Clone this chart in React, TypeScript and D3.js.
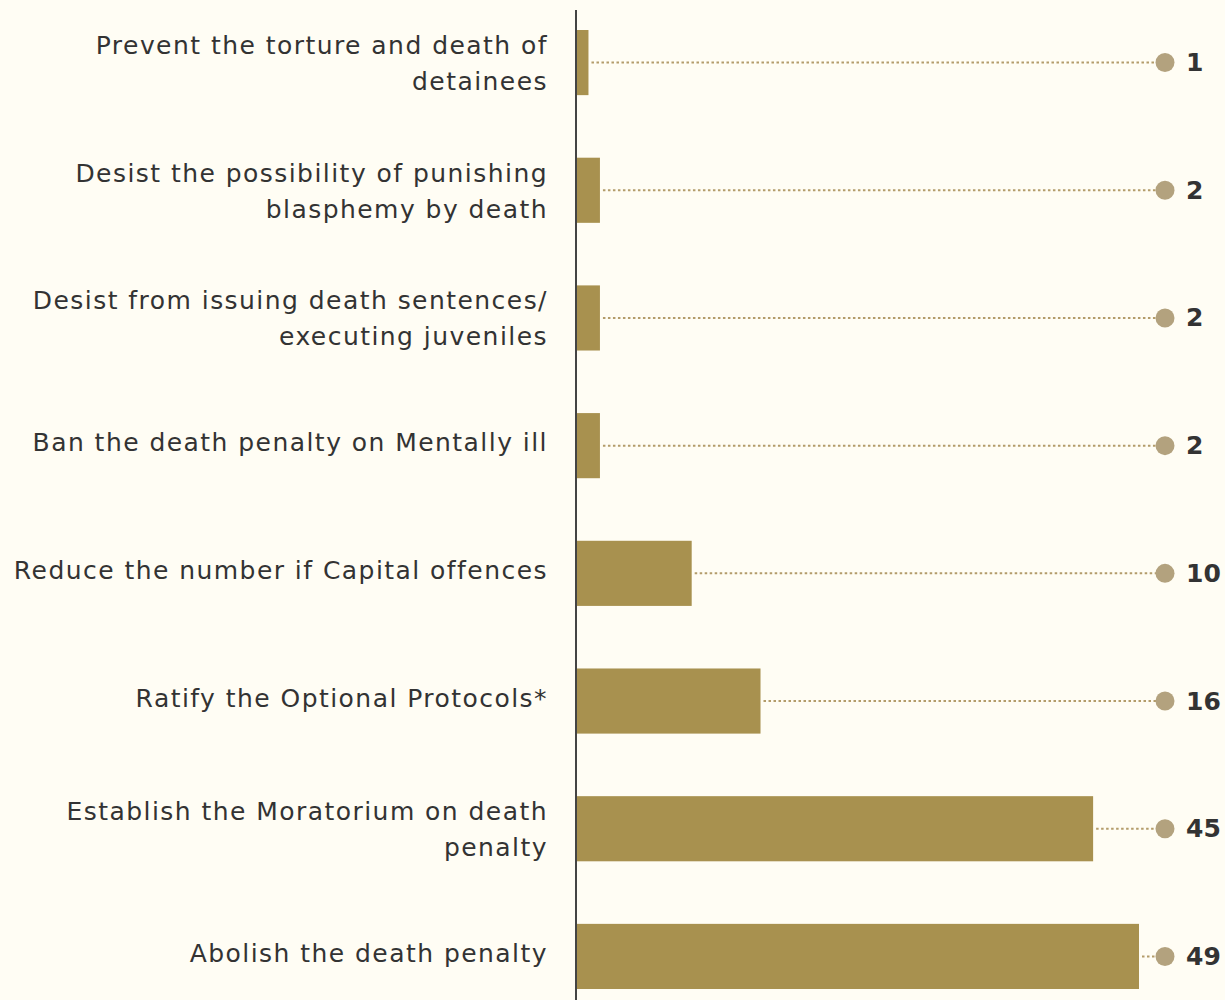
import * as d3 from 'd3'

const categories: string[][] = [
  ['Prevent the torture and death of', 'detainees'],
  ['Desist the possibility of punishing', 'blasphemy by death'],
  ['Desist from issuing death sentences/', 'executing juveniles'],
  ['Ban the death penalty on Mentally ill'],
  ['Reduce the number if Capital offences'],
  ['Ratify the Optional Protocols*'],
  ['Establish the Moratorium on death', 'penalty'],
  ['Abolish the death penalty'],
]
const values = [1, 2, 2, 2, 10, 16, 45, 49]

const W = 1225
const H = 1000
const axisX = 577
const dotX = 1165

export default function App() {
  const x = d3.scaleLinear().domain([0, 49]).range([axisX, 1139])
  const y = d3
    .scaleBand<number>()
    .domain(d3.range(values.length))
    .range([0, 1019])
    .paddingInner(0.49)
    .paddingOuter(0.235)

  return (
    <div style={{ position: 'absolute', left: 0, top: 0 }}>
      <svg width={W} height={H} style={{ display: 'block', background: '#fffdf4' }}>
        <rect width={W} height={H} fill="#fffdf4" />
        {values.map((v, i) => {
          const top = y(i)!
          const bh = y.bandwidth()
          const cy = top + bh / 2
          const lines = categories[i]
          const lh = 36
          const startY = lines.length > 1 ? cy - 17 : cy - 3
          return (
            <g key={i}>
              <rect x={axisX} y={top} width={x(v) - axisX} height={bh} fill="#a8914f" />
              <line
                x1={x(v) + 3}
                x2={dotX - 9}
                y1={cy}
                y2={cy}
                stroke="#b39c6a"
                strokeWidth={2}
                strokeDasharray="2.5,2.5"
              />
              <circle cx={dotX} cy={cy} r={9.5} fill="#b3a27e" />
              <text
                x={1186}
                y={cy}
                dominantBaseline="central"
                fontFamily="'DejaVu Sans', sans-serif"
                fontWeight="bold"
                fontSize={25}
                fill="#333"
              >
                {v}
              </text>
              {lines.map((l, j) => (
                <text
                  key={j}
                  x={548}
                  y={startY + j * lh}
                  textAnchor="end"
                  dominantBaseline="central"
                  fontFamily="'DejaVu Sans', sans-serif"
                  fontSize={25}
                  letterSpacing={1.45}
                  fill="#333"
                >
                  {l}
                </text>
              ))}
            </g>
          )
        })}
        <line x1={576} x2={576} y1={10} y2={H} stroke="#444" strokeWidth={2} />
      </svg>
    </div>
  )
}
